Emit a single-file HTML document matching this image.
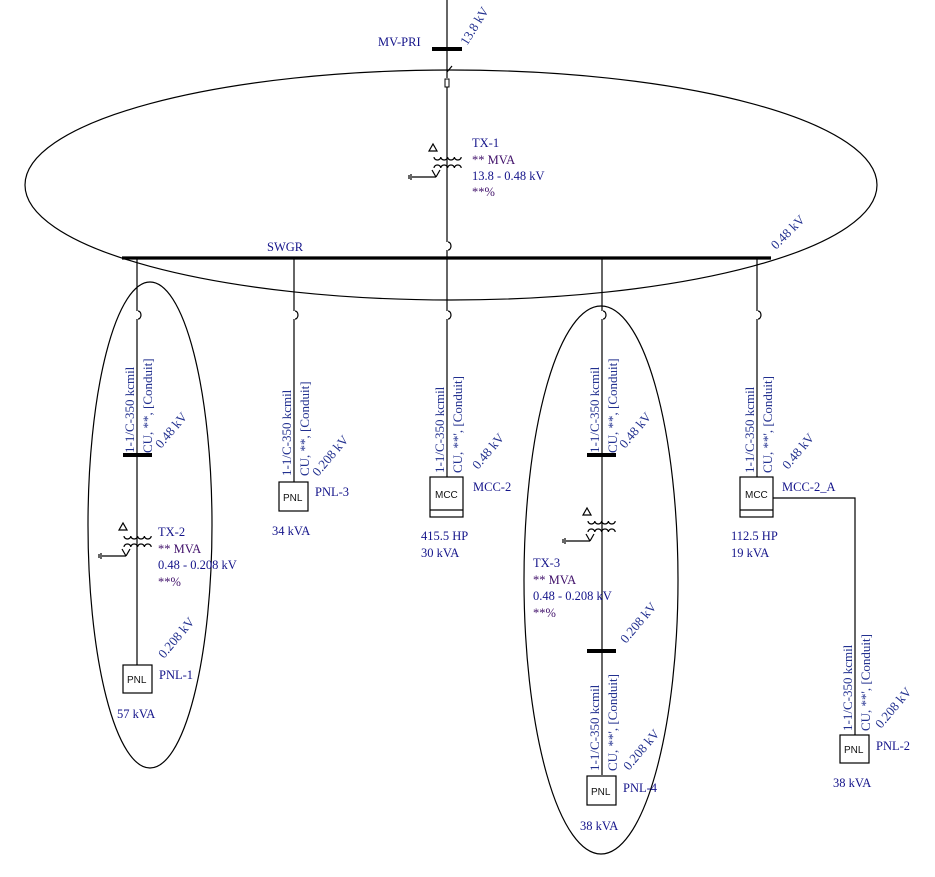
<!DOCTYPE html>
<html><head><meta charset="utf-8"><style>
html,body{margin:0;padding:0;background:#fff;}
svg{display:block;}
text{font-family:"Liberation Serif",serif;font-size:12.5px;fill:#14148a;}
.r{font-size:13px;fill:#22308f;}
.m{fill:#40106a;}
.s{font-family:"Liberation Sans",sans-serif;font-size:10px;fill:#111;}
</style></head><body>
<svg width="935" height="877" viewBox="0 0 935 877" xmlns="http://www.w3.org/2000/svg">
<g fill="none" stroke="#000" stroke-width="1.2">
<ellipse cx="451" cy="185" rx="426" ry="115"/>
<ellipse cx="150" cy="525" rx="62" ry="243"/>
<ellipse cx="601" cy="580" rx="77" ry="274"/>
<line x1="447" y1="0" x2="447" y2="78"/>
<line x1="447" y1="87" x2="447" y2="242"/>
<line x1="447" y1="250" x2="447" y2="258"/>
<line x1="447" y1="72" x2="452" y2="66"/>
<rect x="445" y="79" width="4" height="8" stroke-width="1"/>
<path d="M448 242 a3 4 0 0 1 0 8"/>
<path d="M434 157 a3.4 3 0 0 0 6.8 0 a3.4 3 0 0 0 6.8 0 a3.4 3 0 0 0 6.8 0 a3.4 3 0 0 0 6.8 0"/>
<path d="M434 168 a3.4 3 0 0 1 6.8 0 a3.4 3 0 0 1 6.8 0 a3.4 3 0 0 1 6.8 0 a3.4 3 0 0 1 6.8 0"/>
<path d="M429 151 l4 -7 l4 7 z"/>
<path d="M432 170 l4 7 l-4 -7 M436 177 l4 -7 M412 177 l24 0"/>
<path d="M411 174 v6 M409 175 v4"/>
</g>
<g stroke="#000" stroke-width="4">
<line x1="432" y1="49" x2="462" y2="49"/>
<line x1="122" y1="258" x2="771" y2="258" stroke-width="3.2"/>
<line x1="123" y1="455" x2="152" y2="455"/>
<line x1="587" y1="455" x2="616" y2="455"/>
<line x1="587" y1="651" x2="616" y2="651"/>
</g>
<g fill="none" stroke="#000" stroke-width="1.2">
<path d="M137 258 V311 M137 319 V665 M138 311 a3 4 0 0 1 0 8"/>
<path d="M294 258 V311 M294 319 V482 M295 311 a3 4 0 0 1 0 8"/>
<path d="M447 258 V311 M447 319 V477 M448 311 a3 4 0 0 1 0 8"/>
<path d="M602 258 V311 M602 319 V775 M603 311 a3 4 0 0 1 0 8"/>
<path d="M757 258 V311 M757 319 V477 M758 311 a3 4 0 0 1 0 8"/>
<rect x="123" y="665" width="29" height="28"/>
<rect x="279" y="482" width="29" height="29"/>
<rect x="430" y="477" width="33" height="40"/><line x1="430" y1="510" x2="463" y2="510"/>
<rect x="740" y="477" width="33" height="40"/><line x1="740" y1="510" x2="773" y2="510"/>
<rect x="587" y="776" width="29" height="29"/>
<rect x="840" y="735" width="29" height="28"/>
<path d="M773 498 H855 V735"/>
<path d="M124 536 a3.4 3 0 0 0 6.8 0 a3.4 3 0 0 0 6.8 0 a3.4 3 0 0 0 6.8 0 a3.4 3 0 0 0 6.8 0"/>
<path d="M124 547 a3.4 3 0 0 1 6.8 0 a3.4 3 0 0 1 6.8 0 a3.4 3 0 0 1 6.8 0 a3.4 3 0 0 1 6.8 0"/>
<path d="M119 530 l4 -7 l4 7 z"/>
<path d="M122 549 l4 7 M130 549 l-4 7 M102 556 h24 M101 553 v6 M99 554 v4"/>
<path d="M588 521 a3.4 3 0 0 0 6.8 0 a3.4 3 0 0 0 6.8 0 a3.4 3 0 0 0 6.8 0 a3.4 3 0 0 0 6.8 0"/>
<path d="M588 532 a3.4 3 0 0 1 6.8 0 a3.4 3 0 0 1 6.8 0 a3.4 3 0 0 1 6.8 0 a3.4 3 0 0 1 6.8 0"/>
<path d="M583 515 l4 -7 l4 7 z"/>
<path d="M586 534 l4 7 M594 534 l-4 7 M566 541 h24 M565 538 v6 M563 539 v4"/>
</g>
<text x="378" y="46">MV-PRI</text>
<text class="r" transform="translate(467,46) rotate(-58)">13.8 kV</text>
<text x="472" y="147">TX-1</text>
<text x="472" y="164" class="m">** MVA</text>
<text x="472" y="180">13.8 - 0.48 kV</text>
<text x="472" y="196" class="m">**%</text>
<text x="267" y="251">SWGR</text>
<text class="r" transform="translate(776,250) rotate(-45)">0.48 kV</text>

<text class="r" transform="translate(134,453) rotate(-90)">1-1/C-350 kcmil</text>
<text class="r" transform="translate(152,453) rotate(-90)">CU, **, [Conduit]</text>
<text class="r" transform="translate(161,449) rotate(-50)">0.48 kV</text>
<text x="158" y="536">TX-2</text>
<text x="158" y="553" class="m">** MVA</text>
<text x="158" y="569">0.48 - 0.208 kV</text>
<text x="158" y="586" class="m">**%</text>
<text class="r" transform="translate(164,659) rotate(-50)">0.208 kV</text>
<text class="s" x="127" y="683">PNL</text>
<text x="159" y="679">PNL-1</text>
<text x="117" y="718">57 kVA</text>

<text class="r" transform="translate(291,476) rotate(-90)">1-1/C-350 kcmil</text>
<text class="r" transform="translate(309,476) rotate(-90)">CU, **, [Conduit]</text>
<text class="r" transform="translate(318,477) rotate(-50)">0.208 kV</text>
<text class="s" x="283" y="501">PNL</text>
<text x="315" y="496">PNL-3</text>
<text x="272" y="535">34 kVA</text>

<text class="r" transform="translate(444,473) rotate(-90)">1-1/C-350 kcmil</text>
<text class="r" transform="translate(462,473) rotate(-90)">CU, **', [Conduit]</text>
<text class="r" transform="translate(478,470) rotate(-50)">0.48 kV</text>
<text class="s" x="435" y="498">MCC</text>
<text x="473" y="491">MCC-2</text>
<text x="421" y="540">415.5 HP</text>
<text x="421" y="557">30 kVA</text>

<text class="r" transform="translate(599,453) rotate(-90)">1-1/C-350 kcmil</text>
<text class="r" transform="translate(617,453) rotate(-90)">CU, **, [Conduit]</text>
<text class="r" transform="translate(625,449) rotate(-50)">0.48 kV</text>
<text x="533" y="567">TX-3</text>
<text x="533" y="584" class="m">** MVA</text>
<text x="533" y="600">0.48 - 0.208 kV</text>
<text x="533" y="617" class="m">**%</text>
<text class="r" transform="translate(626,644) rotate(-50)">0.208 kV</text>
<text class="r" transform="translate(599,771) rotate(-90)">1-1/C-350 kcmil</text>
<text class="r" transform="translate(617,771) rotate(-90)">CU, **', [Conduit]</text>
<text class="r" transform="translate(629,771) rotate(-50)">0.208 kV</text>
<text class="s" x="591" y="795">PNL</text>
<text x="623" y="792">PNL-4</text>
<text x="580" y="830">38 kVA</text>

<text class="r" transform="translate(754,473) rotate(-90)">1-1/C-350 kcmil</text>
<text class="r" transform="translate(772,473) rotate(-90)">CU, **', [Conduit]</text>
<text class="r" transform="translate(788,470) rotate(-50)">0.48 kV</text>
<text class="s" x="745" y="498">MCC</text>
<text x="782" y="491">MCC-2_A</text>
<text x="731" y="540">112.5 HP</text>
<text x="731" y="557">19 kVA</text>
<text class="r" transform="translate(852,731) rotate(-90)">1-1/C-350 kcmil</text>
<text class="r" transform="translate(870,731) rotate(-90)">CU, **', [Conduit]</text>
<text class="r" transform="translate(881,729) rotate(-50)">0.208 kV</text>
<text class="s" x="844" y="753">PNL</text>
<text x="876" y="750">PNL-2</text>
<text x="833" y="787">38 kVA</text>
</svg>
</body></html>
